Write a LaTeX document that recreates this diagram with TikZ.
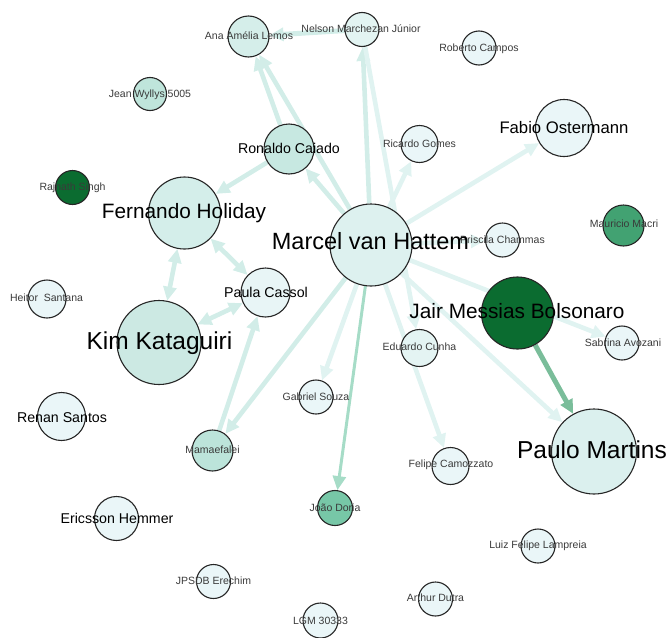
\documentclass[tikz,border=0pt]{standalone}
\usepackage{fontspec}
\setmainfont{Liberation Sans}
\usetikzlibrary{arrows.meta,backgrounds}
\definecolor{cMarcel}{HTML}{DDF1EF}
\definecolor{cAna}{HTML}{D5EEEA}
\definecolor{cNelson}{HTML}{E3F4F2}
\definecolor{cPale}{HTML}{EAF6F8}
\definecolor{cJean}{HTML}{BFE5DB}
\definecolor{cRonaldo}{HTML}{C7E8E1}
\definecolor{cDark}{HTML}{0B6C30}
\definecolor{cFernando}{HTML}{D4EEEA}
\definecolor{cMacri}{HTML}{42A272}
\definecolor{cEduardo}{HTML}{E4F4F3}
\definecolor{cPaula}{HTML}{E8F5F6}
\definecolor{cKim}{HTML}{CCE9E3}
\definecolor{cMamae}{HTML}{BCE4DA}
\definecolor{cPaulo}{HTML}{DBF0EE}
\definecolor{cJoao}{HTML}{77C7A7}
\definecolor{eA}{HTML}{D2EDE8}
\definecolor{eB}{HTML}{E0F3F1}
\definecolor{eJoao}{HTML}{A6DCC7}
\definecolor{eJair}{HTML}{7ABD9A}
\definecolor{lblgray}{HTML}{3A3A3A}
\begin{document}
\begin{tikzpicture}[x=1pt,y=-1pt,
  vert/.style={circle,draw=black!85,line width=1.1pt,inner sep=0pt},
  lbl/.style={inner sep=0pt,text depth=0pt},
  small/.style={lbl,font=\fontsize{10.5}{12}\selectfont,text height=7.6pt,text=lblgray},
  mid/.style={lbl,font=\fontsize{14.2}{16}\selectfont,text height=10.2pt,text=black},
  midb/.style={lbl,font=\fontsize{16.7}{19}\selectfont,text height=12pt,text=black},
  larger/.style={lbl,font=\fontsize{20.8}{24}\selectfont,text height=15pt,text=black},
  huge/.style={lbl,font=\fontsize{24.5}{28}\selectfont,text height=17.6pt,text=black},
  hugem/.style={lbl,font=\fontsize{23.5}{27}\selectfont,text height=16.9pt,text=black},
  edgeline/.style={line width=4.6pt,draw=eA,-{Triangle[length=14pt,width=13pt]}},
  biedge/.style={line width=4.6pt,draw=eA,{Triangle[length=14pt,width=13pt]}-{Triangle[length=14pt,width=13pt]}}
]
\useasboundingbox (0,0) rectangle (671,637);
% vertices
\node[vert,minimum size=41pt,fill=cAna] (ana) at (248.5,36.5) {};
\node[vert,minimum size=34pt,fill=cNelson] (nelson) at (362,29.5) {};
\node[vert,minimum size=34pt,fill=cPale] (roberto) at (479,48) {};
\node[vert,minimum size=33pt,fill=cJean] (jean) at (150,94) {};
\node[vert,minimum size=50pt,fill=cRonaldo] (ronaldo) at (289,149) {};
\node[vert,minimum size=37pt,fill=cPale] (ricardo) at (419.5,144) {};
\node[vert,minimum size=57pt,fill=cPale] (fabio) at (564,128) {};
\node[vert,minimum size=34pt,fill=cDark] (rajnath) at (72.5,187.5) {};
\node[vert,minimum size=72pt,fill=cFernando] (fernando) at (184.5,213) {};
\node[vert,minimum size=82pt,fill=cMarcel] (marcel) at (371,245) {};
\node[vert,minimum size=34pt,fill=cPale] (priscila) at (502.5,240) {};
\node[vert,minimum size=41pt,fill=cMacri] (macri) at (623.5,225.5) {};
\node[vert,minimum size=72pt,fill=cDark] (jair) at (517.5,313) {};
\node[vert,minimum size=34pt,fill=cPale] (sabrina) at (622,343) {};
\node[vert,minimum size=37pt,fill=cEduardo] (eduardo) at (419.5,348) {};
\node[vert,minimum size=49pt,fill=cPaula] (paula) at (265.5,292.5) {};
\node[vert,minimum size=38pt,fill=cPale] (heitor) at (47,299) {};
\node[vert,minimum size=84pt,fill=cKim] (kim) at (159,342.5) {};
\node[vert,minimum size=34pt,fill=cPale] (gabriel) at (316,397) {};
\node[vert,minimum size=48pt,fill=cPale] (renan) at (61.5,416.5) {};
\node[vert,minimum size=41pt,fill=cMamae] (mamae) at (212.5,450.5) {};
\node[vert,minimum size=37pt,fill=cPale] (felipe) at (450.5,466) {};
\node[vert,minimum size=85pt,fill=cPaulo] (paulo) at (594,451.5) {};
\node[vert,minimum size=35pt,fill=cJoao] (joao) at (335,508) {};
\node[vert,minimum size=44pt,fill=cPale] (ericsson) at (116.5,518.5) {};
\node[vert,minimum size=34pt,fill=cPale] (luiz) at (538,546) {};
\node[vert,minimum size=34pt,fill=cPale] (jpsdb) at (213.5,581.5) {};
\node[vert,minimum size=34pt,fill=cPale] (arthur) at (435.5,599) {};
\node[vert,minimum size=35pt,fill=cPale] (lgm) at (320.5,620.5) {};
% edges
\begin{scope}[on background layer]
\draw[edgeline] (marcel) -- (nelson);
\draw[edgeline,line width=5pt] (nelson) -- (ana);
\draw[edgeline] (ronaldo) -- (ana);
\draw[edgeline] (marcel) -- (ana);
\draw[edgeline] (marcel) -- (ronaldo);
\draw[edgeline] (ronaldo) -- (fernando);
\draw[edgeline,draw=eB] (marcel) -- (ricardo);
\draw[edgeline,draw=eB] (marcel) -- (fabio);
\draw[edgeline,draw=eB] (nelson) -- (eduardo);
\draw[edgeline,draw=eB] (marcel) -- (priscila);
\draw[edgeline,draw=eB] (marcel) -- (sabrina);
\draw[edgeline,draw=eB] (marcel) -- (paulo);
\draw[edgeline,draw=eJair,line width=5pt] (jair) -- (paulo);
\draw[edgeline,draw=eJoao,line width=3pt] (marcel) -- (joao);
\draw[edgeline,draw=eB] (marcel) -- (felipe);
\draw[edgeline,draw=eB] (marcel) -- (gabriel);
\draw[edgeline] (marcel) -- (mamae);
\draw[edgeline] (mamae) -- (paula);
\draw[biedge] (fernando) -- (kim);
\draw[biedge] (fernando) -- (paula);
\draw[biedge] (paula) -- (kim);
\end{scope}
% labels
\node[small] (ana-l) at (249,35.5) {Ana Amélia Lemos};
\node[small] (nelson-l) at (361,28.5) {Nelson Marchezan Júnior};
\node[small] (roberto-l) at (479,47.5) {Roberto Campos};
\node[small] (jean-l) at (150,93.5) {Jean Wyllys 5005};
\node[mid] (ronaldo-l) at (289,148.5) {Ronaldo Caiado};
\node[small] (ricardo-l) at (419.5,143.5) {Ricardo Gomes};
\node[midb] (fabio-l) at (564,127.5) {Fabio Ostermann};
\node[small] (rajnath-l) at (72.5,186.5) {Rajnath Singh};
\node[larger] (fernando-l) at (184,211) {Fernando Holiday};
\node[small] (priscila-l) at (502.5,239.5) {Priscila Chammas};
\node[hugem] (marcel-l) at (370.5,241) {Marcel van Hattem};
\node[small] (macri-l) at (624,224) {Mauricio Macri};
\node[larger] (jair-l) at (517,310.5) {Jair Messias Bolsonaro};
\node[small] (sabrina-l) at (623,342.5) {Sabrina Avozani};
\node[small] (eduardo-l) at (419.5,347) {Eduardo Cunha};
\node[mid] (paula-l) at (266,292) {Paula Cassol};
\node[small] (heitor-l) at (46.5,298) {Heitor\ \ Santana};
\node[huge] (kim-l) at (159.5,340.5) {Kim Kataguiri};
\node[small] (gabriel-l) at (316,396.5) {Gabriel Souza};
\node[mid] (renan-l) at (62,417) {Renan Santos};
\node[small] (mamae-l) at (212.5,449.5) {Mamaefalei};
\node[small] (felipe-l) at (451,463.5) {Felipe Camozzato};
\node[huge] (paulo-l) at (592,450) {Paulo Martins};
\node[small] (joao-l) at (335,508) {João Doria};
\node[mid] (ericsson-l) at (117,518) {Ericsson Hemmer};
\node[small] (luiz-l) at (538,545) {Luiz Felipe Lampreia};
\node[small] (jpsdb-l) at (213.5,580.5) {JPSDB Erechim};
\node[small] (arthur-l) at (435.5,598) {Arthur Dutra};
\node[small] (lgm-l) at (320.5,620.5) {LGM 30333};
\end{tikzpicture}
\end{document}
